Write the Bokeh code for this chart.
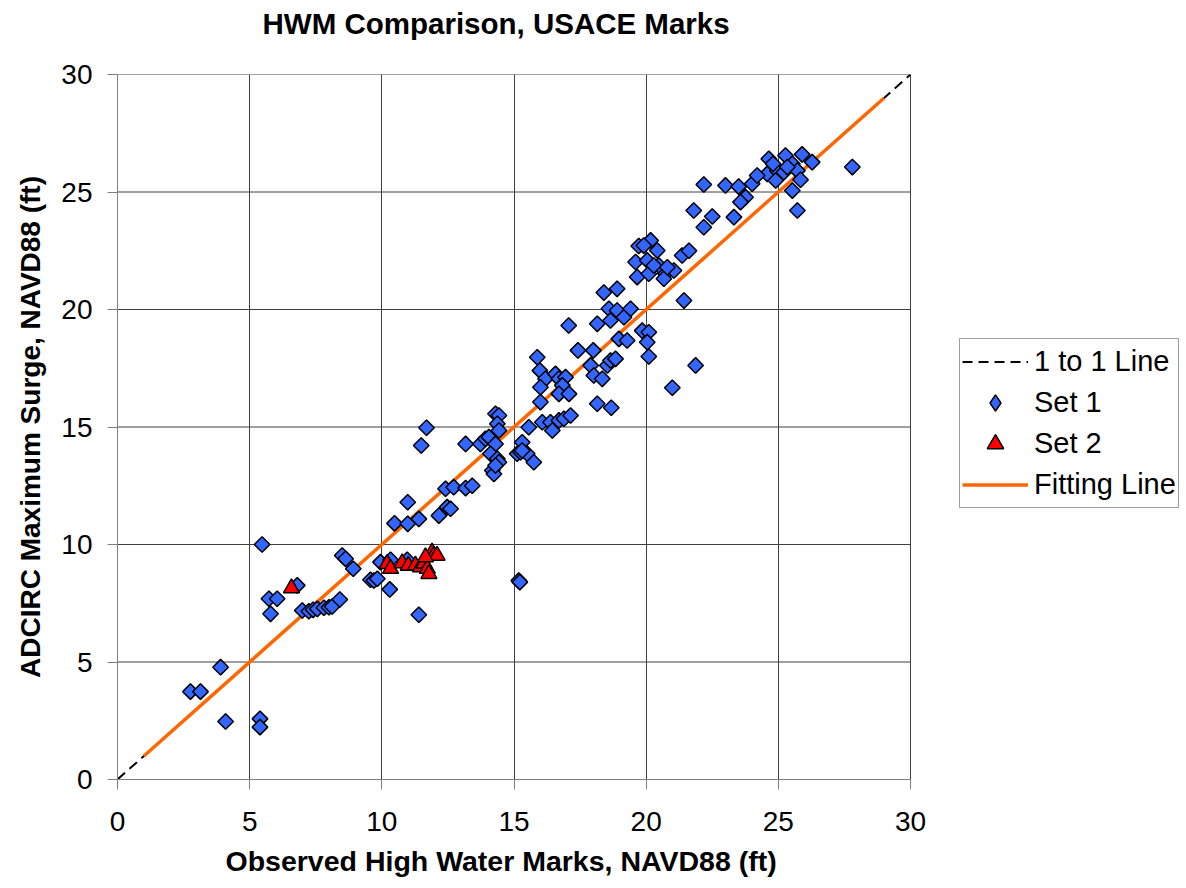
import math
from bokeh.plotting import figure
from bokeh.models import Range1d, FixedTicker, Legend, LegendItem, Title
from bokeh.embed import file_html
from bokeh.resources import INLINE

# ---------------- data ----------------
set1_x = [2.76, 3.14, 3.90, 4.09, 5.39, 5.39, 5.47, 5.73, 6.04, 5.79, 6.80, 6.99, 7.24, 7.40,
          7.56, 7.81, 8.00, 8.12, 8.41, 8.50, 8.63, 8.92, 9.57, 9.70, 9.83, 10.30, 11.40, 9.95,
          10.33, 10.96, 10.48, 10.98, 11.40, 10.98, 11.69, 11.49, 12.16, 12.47, 12.60, 12.41,
          12.72, 13.17, 13.42, 13.17, 13.73, 13.92, 14.05, 14.30, 14.11, 14.37, 14.43, 14.18,
          14.24, 14.30, 14.30, 14.43, 14.37, 14.43, 15.18, 15.22, 15.12, 15.25, 15.50, 15.75,
          15.31, 15.56, 15.31, 15.88, 15.98, 16.19, 16.57, 16.70, 16.95, 16.83, 16.70, 17.08,
          16.00, 16.00, 16.07, 16.38, 16.70, 16.89, 17.14, 16.45, 17.07, 17.42, 18.00, 17.90,
          18.02, 18.34, 18.53, 18.65, 18.84, 18.15, 18.68, 18.40, 18.90, 18.59, 18.90, 19.16,
          19.41, 18.15, 18.65, 18.97, 19.28, 19.85, 20.10, 20.04, 20.10, 20.99, 21.87, 19.72,
          20.17, 20.42, 19.60, 20.04, 20.48, 19.66, 20.10, 20.73, 21.05, 20.67, 21.36, 21.62,
          21.43, 20.29, 20.80, 19.91, 22.18, 23.00, 23.50, 24.01, 23.76, 23.57, 21.80, 22.50,
          22.18, 23.32, 24.64, 25.27, 25.90, 26.28, 24.58, 24.96, 25.53, 25.72, 25.84, 25.53,
          25.72, 27.80, 24.20, 24.90, 25.21, 25.34, 24.80]
set1_y = [3.74, 3.74, 4.78, 2.47, 2.58, 2.23, 10.00, 7.69, 7.69, 7.05, 8.26, 7.19, 7.16, 7.22,
          7.26, 7.31, 7.33, 7.36, 7.66, 9.53, 9.39, 8.97, 8.50, 8.47, 8.54, 8.09, 7.01, 9.25,
          9.35, 9.35, 10.90, 10.88, 11.09, 11.80, 14.97, 14.21, 11.23, 11.59, 11.52, 12.37,
          12.44, 12.40, 12.50, 14.28, 14.28, 14.50, 14.57, 14.28, 13.86, 13.65, 13.50, 13.15,
          13.00, 13.36, 15.56, 15.49, 15.14, 14.85, 8.47, 8.40, 13.86, 13.93, 13.86, 13.50,
          14.35, 14.99, 14.00, 17.97, 17.40, 17.05, 17.26, 17.05, 17.12, 16.77, 16.41, 16.41,
          16.69, 16.06, 15.20, 15.20, 15.28, 15.35, 15.49, 14.85, 19.32, 18.26, 18.26, 17.62,
          17.19, 17.05, 17.62, 17.83, 17.90, 15.99, 15.82, 20.72, 20.88, 20.03, 19.96, 19.67,
          20.03, 19.39, 19.53, 18.75, 18.68, 19.10, 19.03, 18.61, 18.00, 16.67, 17.62, 22.70,
          22.94, 22.51, 22.02, 22.09, 21.87, 21.38, 21.52, 21.52, 21.66, 21.31, 22.30, 22.50,
          20.38, 21.87, 21.80, 22.72, 25.32, 25.28, 25.23, 25.35, 24.78, 24.57, 24.21, 23.96,
          23.50, 23.93, 26.41, 26.55, 26.60, 26.27, 25.77, 25.91, 26.20, 25.91, 25.52, 25.06,
          24.21, 26.06, 25.70, 25.49, 25.84, 26.06, 26.20]

set2_x = [6.58, 10.20, 10.33, 10.77, 11.00, 11.27, 11.46, 11.60, 11.72, 11.78, 11.90, 11.97, 12.09, 11.65]
set2_y = [8.14, 9.18, 8.97, 9.21, 9.10, 9.11, 9.04, 9.20, 8.97, 8.75, 9.67, 9.53, 9.53, 9.46]

one_x = [0, 30]
one_y = [0, 30]
fit_x = [1, 29]
fit_y = [1, 29]

ticks = [0, 5, 10, 15, 20, 25, 30]
AX_MIN, AX_MAX = 0, 30

FONT = "Liberation Sans"
BLUE = "#3366FF"
RED = "#FF0000"
ORANGE = "#FF6600"
GRID = "#404040"
AXIS = "#808080"

# The plotting frame is widened to the right edge so that the legend can sit
# beside the 0..30 data area; axis and grid lines are bounded to 0..30.
DATA_W = 793
FRAME_W = 1069
x_end = AX_MAX * FRAME_W / DATA_W

p = figure(frame_width=FRAME_W, frame_height=705, output_backend="svg", toolbar_location=None,
           x_range=Range1d(AX_MIN, x_end), y_range=Range1d(AX_MIN, AX_MAX), title_location=None,
           min_border_left=117, min_border_right=0, min_border_top=74, min_border_bottom=109)

# spacer panel (closest to the frame) so that the title sits near the top edge
spacer = Title(text=" ", text_font_size="10px", standoff=18)
p.add_layout(spacer, "above")
title = Title(text="HWM Comparison, USACE Marks", text_font=FONT, text_font_size="29.5px",
              text_font_style="bold", text_color="black", align="left", offset=145, standoff=8)
p.add_layout(title, "above")

p.outline_line_color = None
p.background_fill_color = "white"
p.border_fill_color = "white"

for ax in (p.xaxis[0], p.yaxis[0]):
    ax.ticker = FixedTicker(ticks=ticks)
    ax.bounds = (AX_MIN, AX_MAX)
    ax.axis_line_color = AXIS
    ax.axis_line_width = 1
    ax.major_tick_line_color = AXIS
    ax.major_tick_in = 0
    ax.major_tick_out = 10
    ax.minor_tick_line_color = None
    ax.major_label_text_font = FONT
    ax.major_label_text_font_size = "28px"
    ax.major_label_text_color = "black"
    ax.axis_label_text_font = FONT
    ax.axis_label_text_font_size = "28px"
    ax.axis_label_text_font_style = "bold"
    ax.axis_label_text_color = "black"

p.yaxis.axis_label = "ADCIRC Maximum Surge, NAVD88 (ft)"
p.xaxis.major_label_standoff = 22
p.yaxis.major_label_standoff = 15
p.yaxis.axis_label_standoff = 12

# x-axis title placed under the 0..30 data area (the frame is wider than that)
xlabel = Title(text="Observed High Water Marks, NAVD88 (ft)", text_font=FONT,
               text_font_size="28.5px", text_font_style="bold", text_color="black",
               align="left", offset=108, standoff=19)
p.add_layout(xlabel, "below")

# vertical grid lines from the Bokeh grid, horizontal ones bounded to the 0..30 area
p.xgrid.ticker = FixedTicker(ticks=ticks[1:])
p.xgrid.grid_line_color = GRID
p.xgrid.grid_line_width = 1
p.ygrid.visible = False
gy = ticks[1:]
p.segment(x0=[AX_MIN] * len(gy), y0=gy, x1=[AX_MAX] * len(gy), y1=gy,
          line_color=GRID, line_width=1)

r_one = p.line(one_x, one_y, line_color="black", line_width=2, line_dash="10 6")
r_fit = p.line(fit_x, fit_y, line_color=ORANGE, line_width=3.5)
r_s1 = p.scatter(set1_x, set1_y, marker="square", angle=math.pi / 4, size=11,
                 fill_color=BLUE, line_color="black", line_width=1.5)
r_s2 = p.scatter(set2_x, set2_y, marker="triangle", size=16,
                 fill_color=RED, line_color="black", line_width=1.5)
# legend-only key (a single NaN point, never drawn in the plot) so the legend shows a diamond
r_s1_key = p.scatter([float("nan")], [float("nan")], marker="diamond", size=11,
                     fill_color=BLUE, line_color="black", line_width=1.5)

legend = Legend(items=[
    LegendItem(label="1 to 1 Line", renderers=[r_one]),
    LegendItem(label="Set 1", renderers=[r_s1_key]),
    LegendItem(label="Set 2", renderers=[r_s2]),
    LegendItem(label="Fitting Line", renderers=[r_fit]),
], location=(842, 271))
legend.label_text_font = FONT
legend.label_text_font_size = "29px"
legend.label_text_color = "black"
legend.glyph_width = 66
legend.glyph_height = 41
legend.label_height = 41
legend.spacing = 0
legend.padding = 2
legend.margin = 0
legend.label_standoff = 6
legend.border_line_color = GRID
legend.border_line_width = 1
legend.background_fill_color = "white"
legend.background_fill_alpha = 1
p.add_layout(legend, "center")

open("out.html", "w").write(file_html(p, INLINE))
